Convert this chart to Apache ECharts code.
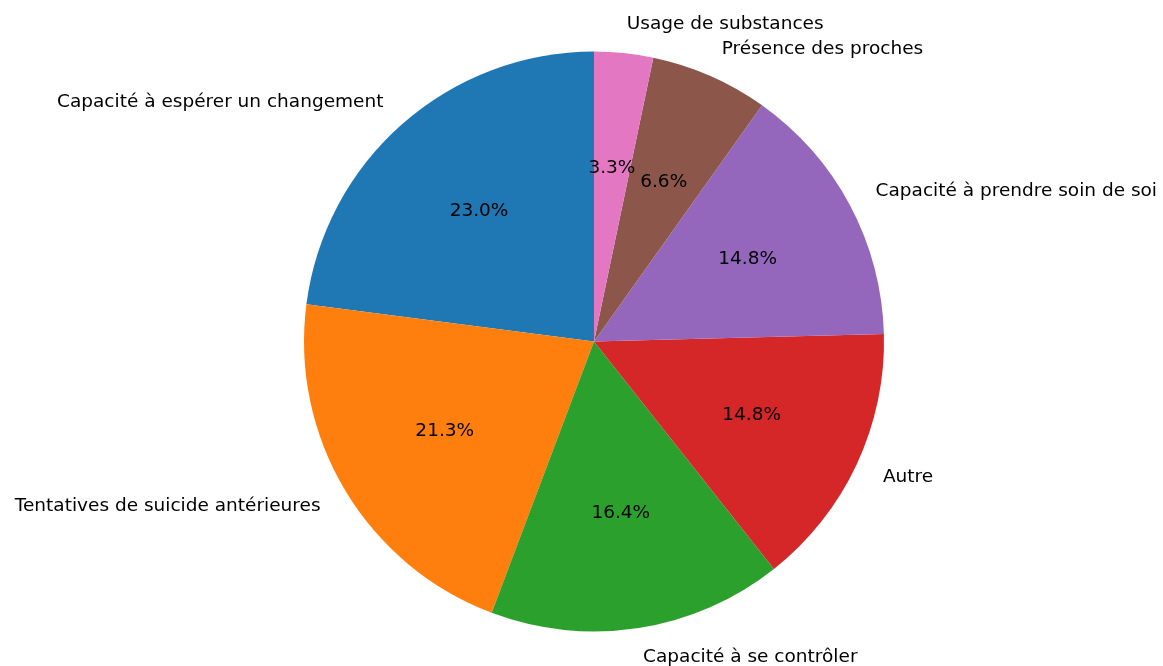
<!DOCTYPE html>
<html>
<head>
<meta charset="utf-8">
<script src="https://cdn.jsdelivr.net/npm/echarts@6/dist/echarts.min.js"></script>
<style>
html,body{margin:0;padding:0;background:#fff;}
#chart{width:1163px;height:666px;}
</style>
</head>
<body>
<div id="chart"></div>
<script>
const categories = [
  'Capacité à espérer un changement',
  'Tentatives de suicide antérieures',
  'Capacité à se contrôler',
  'Autre',
  'Capacité à prendre soin de soi',
  'Présence des proches',
  'Usage de substances'
];
const counts = [14, 13, 10, 9, 9, 4, 2];
const colors = ['#1f77b4', '#ff7f0e', '#2ca02c', '#d62728', '#9467bd', '#8c564b', '#e377c2'];

const total = counts.reduce((a, b) => a + b, 0);
const R = 290;
const CENTER = [594, 341.5];
const FONT = 'DejaVu Sans';
const FS = 18.5;

const chart = echarts.init(document.getElementById('chart'), null, {renderer: 'canvas'});
const data = categories.map((c, i) => ({name: c, value: counts[i], itemStyle: {color: colors[i]}}));

chart.setOption({
  animation: false,
  backgroundColor: '#ffffff',
  series: [
    {
      type: 'pie',
      center: CENTER,
      radius: [0, R],
      startAngle: 90,
      clockwise: false,
      avoidLabelOverlap: false,
      silent: true,
      emphasis: {disabled: true},
      data: data,
      label: {
        show: true,
        position: 'outside',
        formatter: '{b}',
        color: '#000',
        fontFamily: FONT,
        fontSize: FS,
        distanceToLabelLine: 0
      },
      labelLine: {show: false, length: R * 0.1, length2: 0}
    },
    {
      type: 'pie',
      center: CENTER,
      radius: [0, R * 1.18],
      startAngle: 90,
      clockwise: false,
      avoidLabelOverlap: false,
      silent: true,
      emphasis: {disabled: true},
      data: categories.map((c, i) => ({name: c, value: counts[i], itemStyle: {color: 'rgba(0,0,0,0)'}})),
      label: {
        show: true,
        position: 'inside',
        formatter: p => (p.value / total * 100).toFixed(1) + '%',
        color: '#000',
        fontFamily: FONT,
        fontSize: FS
      },
      labelLine: {show: false}
    }
  ]
});
</script>
</body>
</html>
